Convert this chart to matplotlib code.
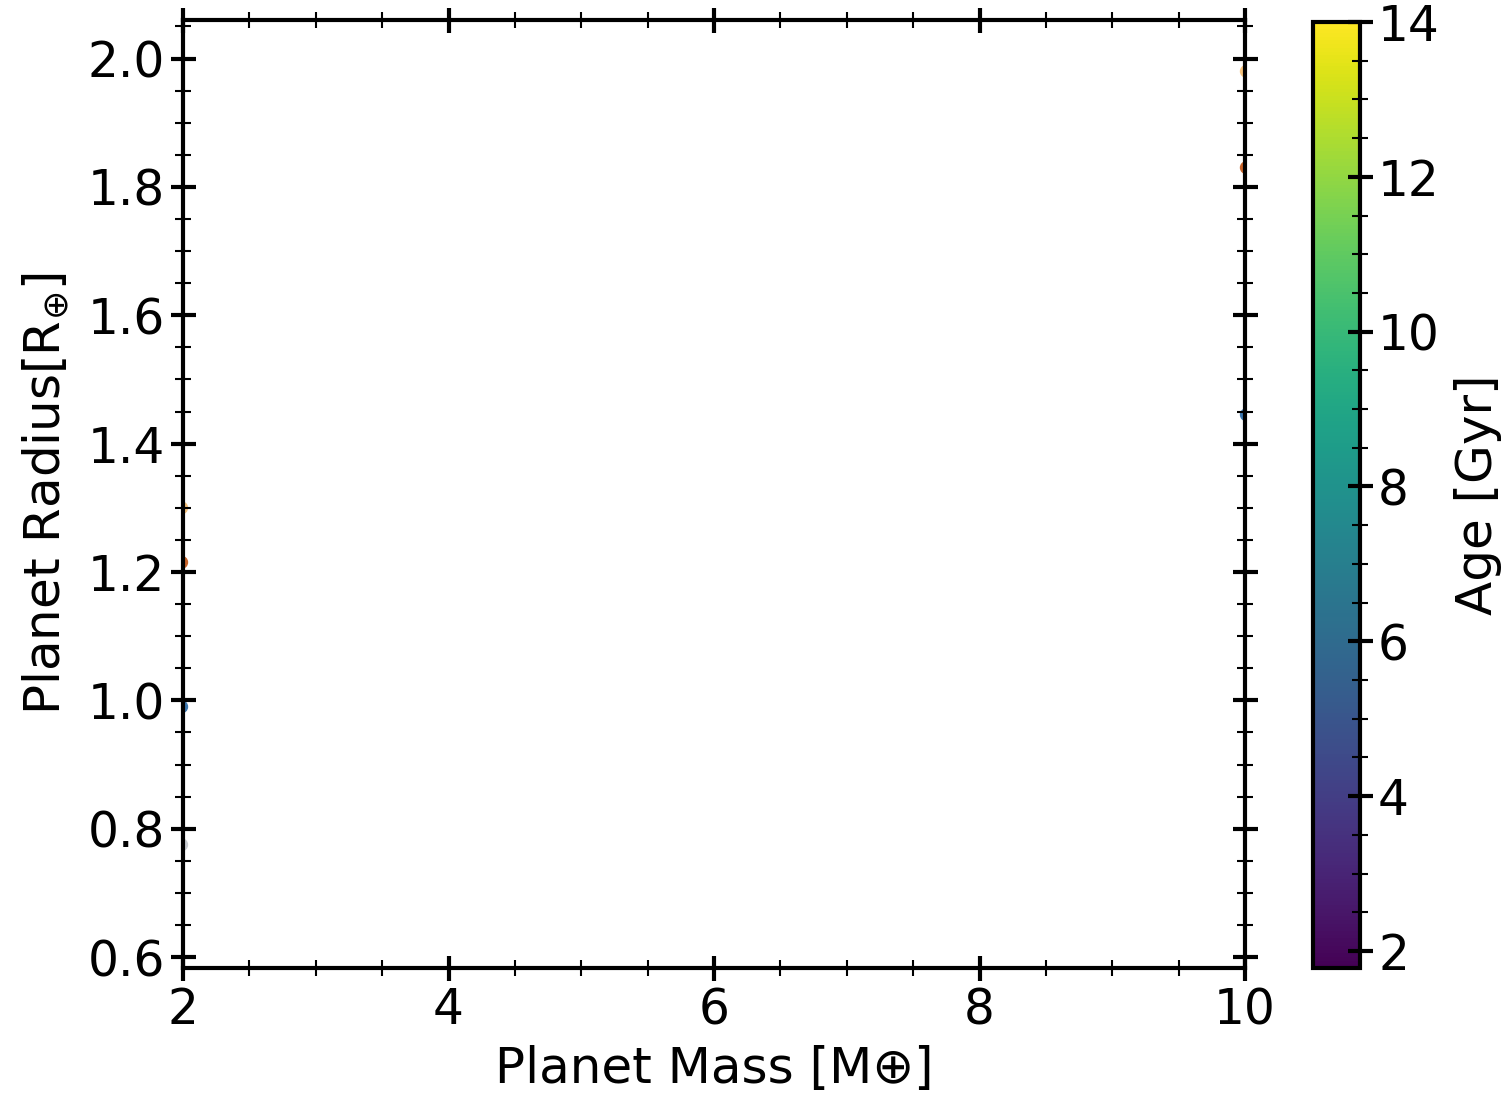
import numpy as np
import matplotlib
matplotlib.use('Agg')
import matplotlib.pyplot as plt
from matplotlib.ticker import MultipleLocator
from matplotlib.cm import ScalarMappable
from matplotlib.colors import Normalize


# Data (only a few points sit on the plot edges, the rest is out of range)
mass = [1.99, 1.99, 1.99, 1.99, 10.01, 10.01, 10.01]
radius = [1.30, 1.215, 0.99, 0.775, 1.98, 1.83, 1.445]
point_colors = ['#f6c27c', '#c8642a', '#3b76ae', '#c9ccd2', '#f6c27c', '#c8642a', '#3b76ae']

age_min = 1.78
age_max = 14.0

fig = plt.figure(figsize=(15.12, 10.96), dpi=100)
ax = fig.add_axes([183/1512, 1 - 968/1096, (1245-183)/1512, (968-20)/1096])
cax = fig.add_axes([1313/1512, 1 - 968/1096, (1360-1313)/1512, (968-22)/1096])

ax.scatter(mass, radius, c=point_colors, s=70, zorder=1)

ax.set_xlim(2, 10)
ax.set_ylim(0.583, 2.06)
ax.xaxis.set_major_locator(MultipleLocator(2))
ax.xaxis.set_minor_locator(MultipleLocator(0.5))
ax.yaxis.set_major_locator(MultipleLocator(0.2))
ax.yaxis.set_minor_locator(MultipleLocator(0.05))

ax.set_xlabel('Planet Mass [M\u2295]', fontsize=36, labelpad=8)
ax.set_ylabel(r'Planet Radius[R$_{\!\oplus}\!$]', fontsize=36, labelpad=12)

for a in (ax, cax):
    for s in a.spines.values():
        s.set_linewidth(3)
        s.set_zorder(5)

ax.tick_params(which='major', direction='inout', length=18, width=3, labelsize=35,
               top=True, right=True, pad=4)
ax.tick_params(which='minor', direction='inout', length=11, width=1.5,
               top=True, right=True)

sm = ScalarMappable(norm=Normalize(age_min, age_max), cmap='viridis')
cb = fig.colorbar(sm, cax=cax)
cb.outline.set_linewidth(3)
cb.set_ticks(np.arange(2, 15, 2))
cax.yaxis.set_minor_locator(MultipleLocator(0.5))
cax.tick_params(which='major', direction='inout', length=18, width=3, labelsize=35, pad=4)
cax.tick_params(which='minor', direction='inout', length=11, width=1.5)
cb.set_label('Age [Gyr]', fontsize=36, labelpad=10)

fig.savefig('out.png', dpi=100)
